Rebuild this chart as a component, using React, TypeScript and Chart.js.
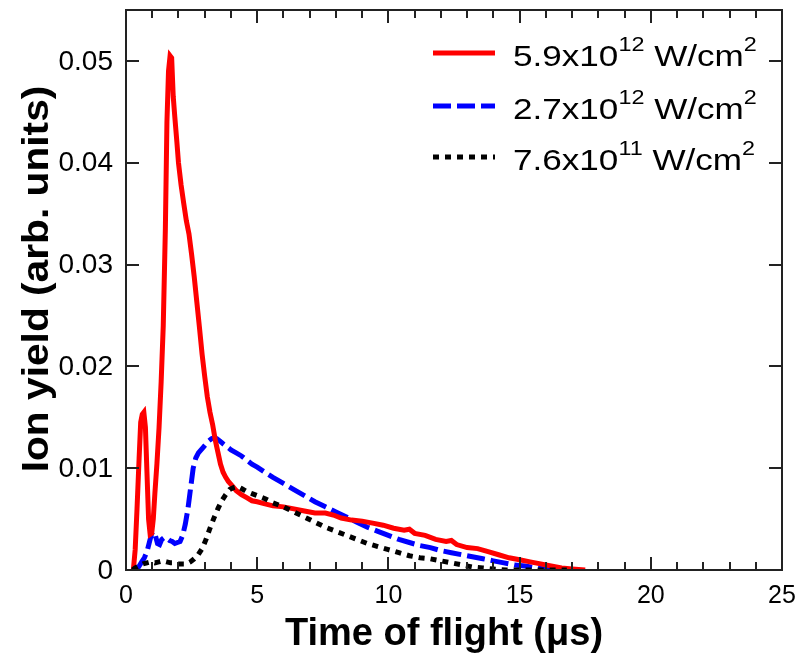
import React, { useEffect, useRef } from "react";
import { Chart, registerables } from "chart.js";

Chart.register(...registerables);

// ---- data ----
const redT = [0.2, 0.28, 0.35, 0.42, 0.5, 0.56, 0.62, 0.68, 0.74, 0.8, 0.86, 0.92, 0.98, 1.04, 1.1, 1.18, 1.26, 1.34, 1.42, 1.5, 1.56, 1.62, 1.68, 1.74, 1.8, 1.86, 1.94, 2.0, 2.1, 2.2, 2.3, 2.4, 2.5, 2.6, 2.7, 2.8, 2.9, 3.0, 3.1, 3.2, 3.3, 3.4, 3.5, 3.6, 3.7, 3.8, 3.9, 4.0, 4.2, 4.4, 4.6, 4.8, 5.0, 5.3, 5.6, 6.0, 6.4, 6.8, 7.2, 7.6, 7.9, 8.2, 8.6, 9.0, 9.4, 9.8, 10.2, 10.6, 10.8, 11.0, 11.4, 11.8, 12.2, 12.4, 12.6, 13.0, 13.4, 13.8, 14.2, 14.6, 15.0, 15.4, 15.8, 16.2, 16.6, 17.0, 17.5];
const redY = [0, 0, 0.002, 0.006, 0.011, 0.0145, 0.0153, 0.0155, 0.014, 0.0095, 0.005, 0.0035, 0.0036, 0.005, 0.0075, 0.0105, 0.014, 0.0185, 0.024, 0.0335, 0.044, 0.049, 0.0505, 0.0503, 0.0465, 0.0445, 0.042, 0.04, 0.0378, 0.036, 0.0343, 0.033, 0.031, 0.0288, 0.0263, 0.0238, 0.0212, 0.019, 0.017, 0.0155, 0.0143, 0.0128, 0.0116, 0.0104, 0.0096, 0.0091, 0.0087, 0.0084, 0.0078, 0.0074, 0.0071, 0.0068, 0.0067, 0.0065, 0.0063, 0.0062, 0.006, 0.0058, 0.0056, 0.0056, 0.0054, 0.0051, 0.0049, 0.0048, 0.0046, 0.0044, 0.0041, 0.0039, 0.004, 0.0036, 0.0034, 0.003, 0.0028, 0.0029, 0.0025, 0.0022, 0.0021, 0.0018, 0.0015, 0.0012, 0.001, 0.0008, 0.0006, 0.0004, 0.0002, 0.0001, 0];

const blueT = [0.4, 0.48, 0.6, 0.7, 0.8, 0.9, 0.98, 1.05, 1.12, 1.2, 1.28, 1.36, 1.46, 1.56, 1.66, 1.76, 1.86, 1.96, 2.06, 2.16, 2.26, 2.36, 2.46, 2.56, 2.66, 2.76, 2.86, 2.96, 3.06, 3.16, 3.26, 3.36, 3.46, 3.56, 3.7, 3.85, 4.0, 4.2, 4.4, 4.6, 4.8, 5.0, 5.3, 5.6, 6.0, 6.4, 6.8, 7.2, 7.6, 8.0, 8.4, 8.8, 9.2, 9.6, 10.0, 10.4, 10.8, 11.2, 11.6, 12.0, 12.4, 12.8, 13.2, 13.6, 14.0, 14.4, 14.8, 15.2, 15.6, 16.0, 16.5, 16.8];
const blueY = [0, 0.0003, 0.0008, 0.0012, 0.0018, 0.0028, 0.0036, 0.0038, 0.0034, 0.0026, 0.0025, 0.003, 0.0032, 0.0031, 0.0029, 0.0028, 0.0026, 0.0027, 0.0028, 0.0034, 0.0045, 0.006, 0.008, 0.01, 0.011, 0.0115, 0.0118, 0.0121, 0.0124, 0.0127, 0.0129, 0.013, 0.0129, 0.0127, 0.0124, 0.0121, 0.0118, 0.0115, 0.0112, 0.0108, 0.0104, 0.0101, 0.0096, 0.0091, 0.0085, 0.0079, 0.0073, 0.0067, 0.0062, 0.0057, 0.0052, 0.0047, 0.0042, 0.0038, 0.0034, 0.003, 0.0027, 0.0024, 0.0022, 0.0019, 0.0017, 0.0015, 0.0013, 0.0011, 0.0009, 0.0007, 0.0005, 0.0004, 0.0002, 0.0001, 0, 0];

const blackT = [0.25, 0.35, 0.5, 0.65, 0.8, 0.95, 1.1, 1.25, 1.4, 1.55, 1.7, 1.85, 2.0, 2.15, 2.3, 2.45, 2.6, 2.75, 2.9, 3.05, 3.2, 3.35, 3.5, 3.65, 3.8, 3.95, 4.1, 4.25, 4.4, 4.6, 4.8, 5.0, 5.3, 5.6, 6.0, 6.4, 6.8, 7.2, 7.6, 8.0, 8.4, 8.8, 9.2, 9.6, 10.0, 10.4, 10.8, 11.2, 11.6, 12.0, 12.4, 12.8, 13.2, 13.6, 14.0, 14.5, 15.5, 16.8];
const blackY = [0, 0.0002, 0.0004, 0.0006, 0.0007, 0.0008, 0.0007, 0.0008, 0.0009, 0.0008, 0.0007, 0.0007, 0.0006, 0.0006, 0.0006, 0.0008, 0.0011, 0.0015, 0.0021, 0.003, 0.0041, 0.0051, 0.006, 0.0068, 0.0074, 0.0079, 0.0081, 0.0082, 0.008, 0.0077, 0.0075, 0.0073, 0.007, 0.0066, 0.0062, 0.0057, 0.0052, 0.0047, 0.0042, 0.0038, 0.0034, 0.003, 0.0026, 0.0023, 0.002, 0.0017, 0.0014, 0.0012, 0.0011, 0.0009, 0.0007, 0.0005, 0.0003, 0.0002, 0.0001, 0, 0, 0];

const xMajorTicks = [0, 5, 10, 15, 20, 25];
const xMinorTicks = [1, 2, 3, 4, 6, 7, 8, 9, 11, 12, 13, 14, 16, 17, 18, 19, 21, 22, 23, 24];
const yTicks = [0, 0.01, 0.02, 0.03, 0.04, 0.05];
const yTickLabels = ["0", "0.01", "0.02", "0.03", "0.04", "0.05"];
const xTickLabels = ["0", "5", "10", "15", "20", "25"];

const seriesLabels = [
  { base: "5.9x10", exp: "12", unit: " W/cm", unitExp: "2" },
  { base: "2.7x10", exp: "12", unit: " W/cm", unitExp: "2" },
  { base: "7.6x10", exp: "11", unit: " W/cm", unitExp: "2" },
];
const seriesColors = ["#ff0000", "#0000ff", "#000000"];
const seriesDash: number[][] = [[], [18, 6], [6, 6]];

const xTitle = "Time of flight (\u03bcs)";
const yTitle = "Ion yield (arb. units)";

const FONT = "'Liberation Sans', Arial, sans-serif";

function pts(t: number[], y: number[]) {
  return t.map((v, i) => ({ x: v, y: y[i] }));
}

const framePlugin = {
  id: "frame",
  afterDraw(chart: any) {
    const ctx = chart.ctx as CanvasRenderingContext2D;
    const { left, right, top, bottom } = chart.chartArea;
    const xs = chart.scales.x;
    const ys = chart.scales.y;
    ctx.save();
    ctx.strokeStyle = "#222";
    ctx.lineWidth = 2;
    ctx.strokeRect(left, top, right - left, bottom - top);
    ctx.beginPath();
    const major = 13;
    const minor = 8;
    xMajorTicks.forEach((v) => {
      const px = Math.round(xs.getPixelForValue(v));
      ctx.moveTo(px, bottom);
      ctx.lineTo(px, bottom - major);
      ctx.moveTo(px, top);
      ctx.lineTo(px, top + major);
    });
    xMinorTicks.forEach((v) => {
      const px = Math.round(xs.getPixelForValue(v));
      ctx.moveTo(px, bottom);
      ctx.lineTo(px, bottom - minor);
      ctx.moveTo(px, top);
      ctx.lineTo(px, top + minor);
    });
    yTicks.forEach((v) => {
      const py = Math.round(ys.getPixelForValue(v));
      ctx.moveTo(left, py);
      ctx.lineTo(left + major, py);
      ctx.moveTo(right, py);
      ctx.lineTo(right - major, py);
    });
    ctx.stroke();

    // tick labels
    ctx.fillStyle = "#000";
    ctx.font = `28px ${FONT}`;
    ctx.textAlign = "right";
    ctx.textBaseline = "middle";
    yTicks.forEach((v, i) => {
      const py = ys.getPixelForValue(v);
      ctx.fillText(yTickLabels[i], left - 13, py + 1);
    });
    ctx.font = `25px ${FONT}`;
    ctx.textAlign = "center";
    ctx.textBaseline = "alphabetic";
    xMajorTicks.forEach((v, i) => {
      const px = xs.getPixelForValue(v);
      ctx.fillText(xTickLabels[i], px, bottom + 33);
    });

    // axis titles
    ctx.font = `bold 38px ${FONT}`;
    ctx.textAlign = "center";
    ctx.fillText(xTitle, 444, 645);
    ctx.font = `bold 37px ${FONT}`;
    ctx.save();
    ctx.translate(48, 279);
    ctx.rotate(-Math.PI / 2);
    ctx.scale(1.1, 1);
    ctx.fillText(yTitle, 0, 0);
    ctx.restore();

    // legend
    const sx = 1.17;
    const lineX0 = 433;
    const lineX1 = 495;
    const rowsY = [53, 106, 157];
    seriesLabels.forEach((s, i) => {
      const y = rowsY[i];
      ctx.save();
      ctx.strokeStyle = seriesColors[i];
      ctx.lineWidth = 5;
      ctx.lineCap = "butt";
      ctx.setLineDash(seriesDash[i]);
      ctx.beginPath();
      ctx.moveTo(lineX0, y);
      ctx.lineTo(lineX1, y);
      ctx.stroke();
      ctx.restore();

      let x = 513;
      const base = y + 13;
      const drawPart = (txt: string, size: number, dy: number) => {
        ctx.font = `${size}px ${FONT}`;
        ctx.textAlign = "left";
        ctx.textBaseline = "alphabetic";
        ctx.save();
        ctx.translate(x, base + dy);
        ctx.scale(sx, 1);
        ctx.fillText(txt, 0, 0);
        ctx.restore();
        x += ctx.measureText(txt).width * sx;
      };
      drawPart(s.base, 30, 0);
      drawPart(s.exp, 20, -15);
      drawPart(s.unit, 30, 0);
      drawPart(s.unitExp, 20, -15);
    });
    ctx.restore();
  },
};

export default function App() {
  const ref = useRef<HTMLCanvasElement | null>(null);
  useEffect(() => {
    if (!ref.current) return;
    const chart = new Chart(ref.current, {
      type: "line",
      data: {
        datasets: [
          {
            label: "5.9x10^12 W/cm^2",
            data: pts(redT, redY),
            borderColor: seriesColors[0],
            borderWidth: 5,
            pointRadius: 0,
            tension: 0,
            order: 1,
          },
          {
            label: "2.7x10^12 W/cm^2",
            data: pts(blueT, blueY),
            borderColor: seriesColors[1],
            borderWidth: 5,
            borderDash: seriesDash[1],
            pointRadius: 0,
            tension: 0,
            order: 2,
          },
          {
            label: "7.6x10^11 W/cm^2",
            data: pts(blackT, blackY),
            borderColor: seriesColors[2],
            borderWidth: 5,
            borderDash: seriesDash[2],
            pointRadius: 0,
            tension: 0,
            order: 0,
          },
        ],
      },
      options: {
        responsive: false,
        animation: false,
        devicePixelRatio: 1,
        layout: { padding: { left: 126, right: 15, top: 10, bottom: 88 } },
        plugins: { legend: { display: false }, tooltip: { enabled: false } },
        scales: {
          x: { type: "linear", min: 0, max: 25, display: false },
          y: { type: "linear", min: 0, max: 0.055, display: false },
        },
      },
      plugins: [framePlugin],
    });
    return () => chart.destroy();
  }, []);
  return (
    <div style={{ position: "fixed", left: 0, top: 0, width: 797, height: 658, background: "#fff" }}>
      <canvas ref={ref} width={797} height={658} />
    </div>
  );
}
